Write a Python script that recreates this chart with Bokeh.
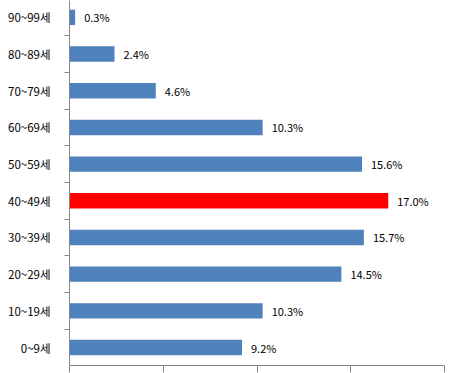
from bokeh.plotting import figure
from bokeh.models import ColumnDataSource, FixedTicker, Range1d
from bokeh.core.properties import value
from bokeh.embed import file_html
from bokeh.resources import INLINE

categories = ["0~9세", "10~19세", "20~29세", "30~39세", "40~49세",
              "50~59세", "60~69세", "70~79세", "80~89세", "90~99세"]
shares = [9.2, 10.3, 14.5, 15.7, 17.0, 15.6, 10.3, 4.6, 2.4, 0.3]
share_labels = ["9.2%", "10.3%", "14.5%", "15.7%", "17.0%",
                "15.6%", "10.3%", "4.6%", "2.4%", "0.3%"]
highlight = "40~49세"
x_ticks = [0, 5, 10, 15, 20]

idx = list(range(len(categories)))
colors = ["#FF0000" if c == highlight else "#4F81BD" for c in categories]
src = ColumnDataSource(dict(y=idx, v=shares, lab=share_labels, c=colors))

p = figure(width=452, height=373, output_backend="svg", toolbar_location=None,
           x_range=Range1d(0, 20), y_range=Range1d(-0.49, 9.46),
           min_border_left=69, min_border_right=8, min_border_top=0,
           min_border_bottom=8)
p.outline_line_color = None
p.xgrid.visible = False
p.ygrid.visible = False

p.hbar(y="y", right="v", left=0, height=0.42, fill_color="c", line_color=None, source=src)
p.text(x="v", y="y", text="lab", source=src, x_offset=9, text_baseline="middle",
       text_align="left", text_font_size="11px", text_color="black",
       text_font=value("Noto Sans CJK KR"))

ax = p.xaxis[0]
ax.ticker = FixedTicker(ticks=x_ticks)
ax.major_label_text_color = None
ax.major_label_text_font_size = "1px"
ax.major_tick_in = 0
ax.major_tick_out = 7
ax.minor_tick_out = 0
ax.minor_tick_in = 0
ax.axis_line_color = "#868686"
ax.major_tick_line_color = "#868686"

ay = p.yaxis[0]
ay.ticker = FixedTicker(ticks=idx, minor_ticks=[i - 0.5 for i in idx])
ay.major_label_overrides = {i: c for i, c in zip(idx, categories)}
ay.major_tick_in = 0
ay.major_tick_out = 0
ay.minor_tick_in = 0
ay.minor_tick_out = 5
ay.major_label_standoff = 14
ay.major_label_text_font_size = "11.5px"
ay.major_label_text_font = "Noto Sans CJK KR"
ay.major_label_text_color = "black"
ay.axis_line_color = "#868686"
ay.minor_tick_line_color = "#868686"

open("out.html", "w").write(file_html(p, INLINE))
